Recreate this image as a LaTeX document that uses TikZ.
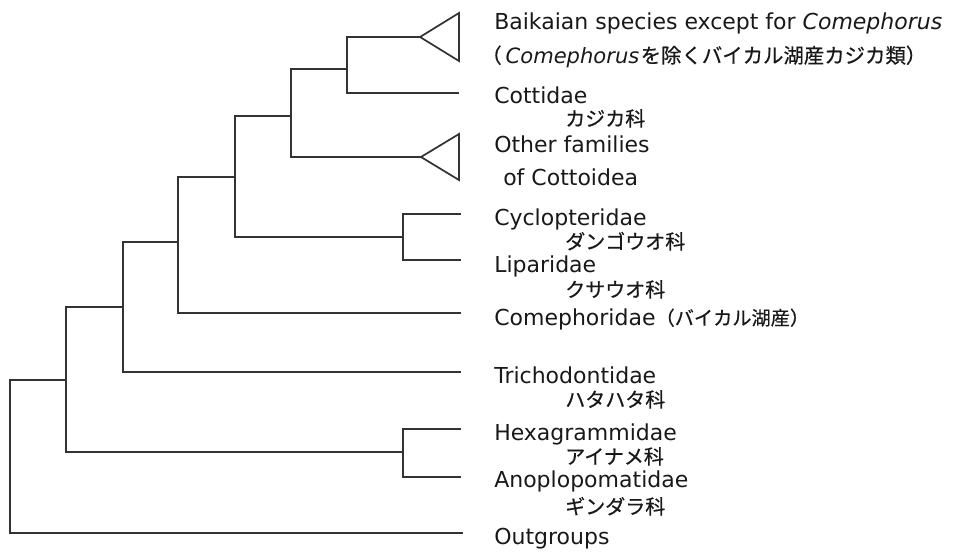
\documentclass[tikz,border=0pt]{standalone}
\usepackage{fontspec}
\setmainfont{DejaVu Sans}
\newfontfamily\jp{Noto Sans CJK JP}[FakeBold=0.6]
\usepackage{tikz}
\usetikzlibrary{positioning}

\tikzset{
  branch/.style={line width=1.3pt, draw=black!80},
  clade/.style={line width=1.3pt, draw=black!80, line join=miter},
  taxon/.style={anchor=base west, inner sep=0pt, text=black!90,
    font=\fontsize{16.5}{18}\selectfont},
  jname/.style={anchor=base west, inner sep=0pt, text=black!90,
    font=\jp\fontsize{15}{17}\selectfont},
}

\begin{document}
\begin{tikzpicture}[x=0.75pt,y=-0.75pt]
\useasboundingbox (0,0) rectangle (976,554);

% internal nodes of the tree
\coordinate (root) at (10,456);
\coordinate (n8) at (66,380);
\coordinate (n7) at (403,452);
\coordinate (n6) at (123,307);
\coordinate (n5) at (178,242);
\coordinate (n4) at (235,177);
\coordinate (n3) at (403,237);
\coordinate (n2) at (291,116);
\coordinate (n1) at (347,69);

% tips
\coordinate (tBai) at (420,37);
\coordinate (tCot) at (459,93);
\coordinate (tOth) at (421,157);
\coordinate (tCyc) at (461,214);
\coordinate (tLip) at (461,260);
\coordinate (tCom) at (461,313);
\coordinate (tTri) at (461,372);
\coordinate (tHex) at (461,429);
\coordinate (tAno) at (461,477);
\coordinate (tOut) at (463,533);

\draw[branch] (root) |- (n8);
\draw[branch] (root) |- (tOut);
\draw[branch] (n8) |- (n6);
\draw[branch] (n8) |- (n7);
\draw[branch] (n7) |- (tHex);
\draw[branch] (n7) |- (tAno);
\draw[branch] (n6) |- (n5);
\draw[branch] (n6) |- (tTri);
\draw[branch] (n5) |- (n4);
\draw[branch] (n5) |- (tCom);
\draw[branch] (n4) |- (n2);
\draw[branch] (n4) |- (n3);
\draw[branch] (n3) |- (tCyc);
\draw[branch] (n3) |- (tLip);
\draw[branch] (n2) |- (n1);
\draw[branch] (n2) |- (tOth);
\draw[branch] (n1) |- (tBai);
\draw[branch] (n1) |- (tCot);

% collapsed clades
\draw[clade] (tBai) -- (459,13) -- (459,61) -- cycle;
\draw[clade] (tOth) -- (459,134) -- (459,180) -- cycle;

% labels
\node[taxon] (bai) at (494,29) {Baikaian species except for \textit{Comephorus}};
\node[jname, font=\jp\fontsize{15.3}{17}\selectfont] (baij) at (481,63)
  {（\hspace{3pt}{\normalfont\itshape\fontsize{15.8}{17}\selectfont Comephorus}\hspace{1pt}を除くバイカル湖産カジカ類）};
\node[taxon] (cot) at (494,103) {Cottidae};
\node[jname] (cotj) at (565,126) {カジカ科};
\node[taxon] (oth) at (494,152) {Other families};
\node[taxon] (oth2) at (503,185) {of Cottoidea};
\node[taxon] (cyc) at (494,225) {Cyclopteridae};
\node[jname] (cycj) at (565,249) {ダンゴウオ科};
\node[taxon] (lip) at (494,272) {Liparidae};
\node[jname] (lipj) at (565,297) {クサウオ科};
\node[taxon] (com) at (494,325)
  {Comephoridae{\jp\fontsize{14.4}{16}\selectfont （バイカル湖産）}};
\node[taxon] (tri) at (494,383) {Trichodontidae};
\node[jname] (trij) at (565,407) {ハタハタ科};
\node[taxon] (hex) at (494,440) {Hexagrammidae};
\node[jname] (hexj) at (565,464) {アイナメ科};
\node[taxon] (ano) at (494,487) {Anoplopomatidae};
\node[jname] (anoj) at (565,514) {ギンダラ科};
\node[taxon] (out) at (494,544) {Outgroups};
\end{tikzpicture}
\end{document}
